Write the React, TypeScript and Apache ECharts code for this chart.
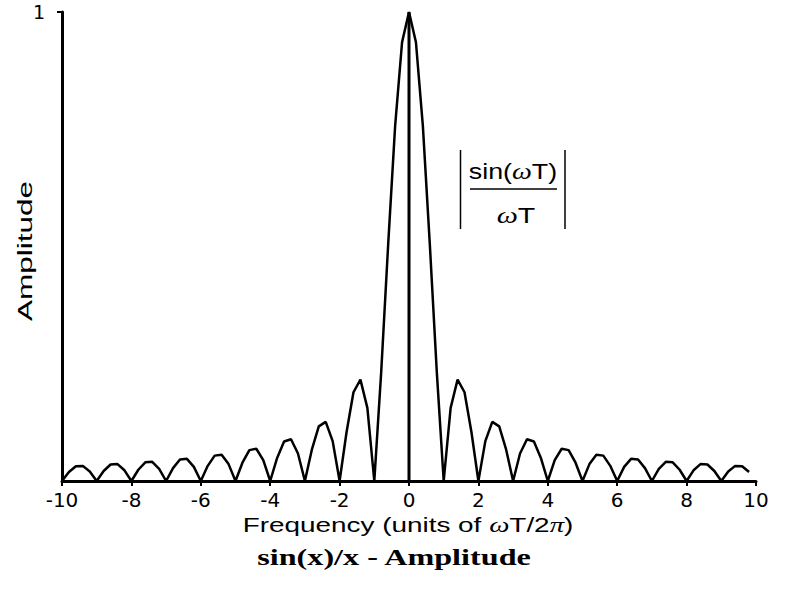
import React, { useEffect, useRef } from "react";
import * as echarts from "echarts";

// Frequency samples (units of ωT/2π)
const xValues = [
  -10, -9.8, -9.6, -9.4, -9.2, -9, -8.8, -8.6, -8.4, -8.2,
  -8, -7.8, -7.6, -7.4, -7.2, -7, -6.8, -6.6, -6.4, -6.2,
  -6, -5.8, -5.6, -5.4, -5.2, -5, -4.8, -4.6, -4.4, -4.2,
  -4, -3.8, -3.6, -3.4, -3.2, -3, -2.8, -2.6, -2.4, -2.2,
  -2, -1.8, -1.6, -1.4, -1.2, -1, -0.8, -0.6, -0.4, -0.2,
  0, 0.2, 0.4, 0.6, 0.8, 1, 1.2, 1.4, 1.6, 1.8,
  2, 2.2, 2.4, 2.6, 2.8, 3, 3.2, 3.4, 3.6, 3.8,
  4, 4.2, 4.4, 4.6, 4.8, 5, 5.2, 5.4, 5.6, 5.8,
  6, 6.2, 6.4, 6.6, 6.8, 7, 7.2, 7.4, 7.6, 7.8,
  8, 8.2, 8.4, 8.6, 8.8, 9, 9.2, 9.4, 9.6, 9.8,
];

// |sin(ωT)/ωT| amplitude
const amplitude = [
  0, 0.0191, 0.0315, 0.0322, 0.0203, 0, 0.0213, 0.0352, 0.036, 0.0228,
  0, 0.024, 0.0398, 0.0409, 0.026, 0, 0.0275, 0.0459, 0.0473, 0.0302,
  0, 0.0323, 0.0541, 0.0561, 0.036, 0, 0.039, 0.0658, 0.0688, 0.0445,
  0, 0.0492, 0.0841, 0.089, 0.0585, 0, 0.0668, 0.1164, 0.1261, 0.085,
  0, 0.1039, 0.1892, 0.2162, 0.1559, 0, 0.2339, 0.5046, 0.7568, 0.9355,
  1, 0.9355, 0.7568, 0.5046, 0.2339, 0, 0.1559, 0.2162, 0.1892, 0.1039,
  0, 0.085, 0.1261, 0.1164, 0.0668, 0, 0.0585, 0.089, 0.0841, 0.0492,
  0, 0.0445, 0.0688, 0.0658, 0.039, 0, 0.036, 0.0561, 0.0541, 0.0323,
  0, 0.0302, 0.0473, 0.0459, 0.0275, 0, 0.026, 0.0409, 0.0398, 0.024,
  0, 0.0228, 0.036, 0.0352, 0.0213, 0, 0.0203, 0.0322, 0.0315, 0.0191,
];

// Vertical stem at zero frequency
const stemX = [0, 0];
const stemY = [0, 1];

// Axis ranges / ticks
const xMin = -10;
const xMax = 10;
const xInterval = 2;
const yTickValues = [1];

export default function App() {
  const ref = useRef<HTMLDivElement>(null);

  useEffect(() => {
    if (!ref.current) return;
    const chart = echarts.init(ref.current, null, { renderer: "svg" });
    const black = "#000";
    chart.setOption({
      animation: false,
      backgroundColor: "#fff",
      grid: { left: 62, right: 31, top: 12, bottom: 109 },
      xAxis: {
        type: "value",
        min: xMin,
        max: xMax,
        interval: xInterval,
        axisLine: { show: true, onZero: false, lineStyle: { color: black, width: 3 } },
        axisTick: { show: true, length: 5, lineStyle: { color: black, width: 2 } },
        splitLine: { show: false },
        axisLabel: {
          color: black,
          fontSize: 20,
          fontFamily: "DejaVu Sans",
          margin: 9,
        },
      },
      yAxis: {
        type: "value",
        min: 0,
        max: 1,
        interval: 1,
        axisLine: { show: true, onZero: false, lineStyle: { color: black, width: 3 } },
        axisTick: {
          show: true,
          length: 5,
          customValues: yTickValues,
          lineStyle: { color: black, width: 2 },
        },
        splitLine: { show: false },
        axisLabel: {
          show: true,
          customValues: yTickValues,
          color: black,
          fontSize: 19,
          fontFamily: "DejaVu Sans",
          margin: 17,
        },
      },
      series: [
        {
          type: "line",
          data: xValues.map((x, i) => [x, amplitude[i]]),
          symbol: "none",
          lineStyle: { color: black, width: 2.5 },
          z: 3,
        },
        {
          type: "line",
          data: stemX.map((x, i) => [x, stemY[i]]),
          symbol: "none",
          lineStyle: { color: black, width: 3 },
          z: 2,
        },
      ],
      graphic: [
        {
          type: "text",
          x: 513,
          y: 171,
          scaleX: 1.22,
          style: {
            text: "sin({w|ω}T)",
            fontFamily: "Liberation Sans",
            fontSize: 22,
            fill: black,
            align: "center",
            verticalAlign: "middle",
            rich: {
              w: { fontFamily: "Liberation Serif", fontStyle: "italic", fontSize: 23, fill: black },
            },
          },
        },
        {
          type: "line",
          shape: { x1: 470, y1: 189, x2: 557, y2: 189 },
          style: { stroke: black, lineWidth: 1.5 },
        },
        {
          type: "text",
          x: 516,
          y: 215,
          scaleX: 1.3,
          style: {
            text: "{w|ω}T",
            fontFamily: "Liberation Sans",
            fontSize: 22,
            fill: black,
            align: "center",
            verticalAlign: "middle",
            rich: {
              w: { fontFamily: "Liberation Serif", fontStyle: "italic", fontSize: 23, fill: black },
            },
          },
        },
        {
          type: "line",
          shape: { x1: 460.5, y1: 150, x2: 460.5, y2: 229 },
          style: { stroke: black, lineWidth: 1.5 },
        },
        {
          type: "line",
          shape: { x1: 565, y1: 150, x2: 565, y2: 229 },
          style: { stroke: black, lineWidth: 1.5 },
        },
        {
          type: "text",
          x: 408,
          y: 525,
          scaleX: 1.43,
          style: {
            text: "Frequency (units of {w|ω}T/2{w|π})",
            fontFamily: "Liberation Sans",
            fontSize: 19.5,
            fill: black,
            align: "center",
            verticalAlign: "middle",
            rich: {
              w: { fontFamily: "Liberation Serif", fontStyle: "italic", fontSize: 20, fill: black },
            },
          },
        },
        {
          type: "text",
          x: 25,
          y: 251,
          rotation: Math.PI / 2,
          scaleX: 1.5,
          style: {
            text: "Amplitude",
            fontFamily: "Liberation Sans",
            fontSize: 21,
            fill: black,
            align: "center",
            verticalAlign: "middle",
          },
        },
        {
          type: "text",
          x: 394,
          y: 557,
          scaleX: 1.4,
          style: {
            text: "sin(x)/x - Amplitude",
            fontFamily: "Liberation Serif",
            fontWeight: "bold",
            fontSize: 23,
            fill: black,
            align: "center",
            verticalAlign: "middle",
          },
        },
      ],
    });
    return () => chart.dispose();
  }, []);

  return (
    <div
      ref={ref}
      style={{ position: "absolute", left: 0, top: 0, width: 787, height: 590, background: "#fff" }}
    />
  );
}
